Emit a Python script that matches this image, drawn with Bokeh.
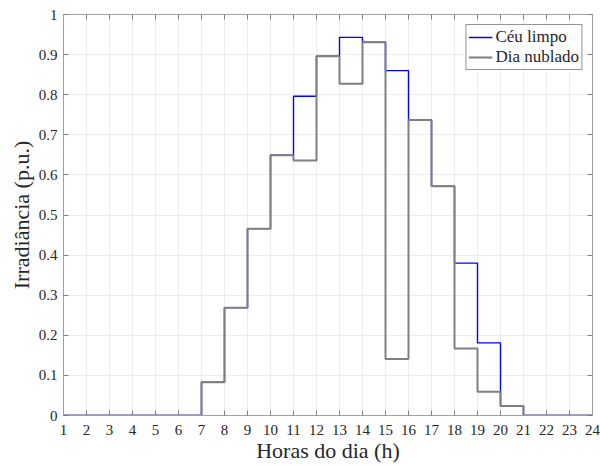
from bokeh.plotting import figure
from bokeh.models import LinearAxis, Range1d, FixedTicker, Legend, LegendItem
from bokeh.embed import file_html
from bokeh.resources import INLINE

# Hourly irradiance (p.u.), value held from hour h to h+1
hours = list(range(1, 25))
ceu_limpo = [0, 0, 0, 0, 0, 0, 0.083, 0.269, 0.466, 0.649, 0.796, 0.896,
             0.943, 0.931, 0.860, 0.737, 0.572, 0.380, 0.181, 0.024, 0, 0, 0, 0]
dia_nublado = [0, 0, 0, 0, 0, 0, 0.083, 0.269, 0.466, 0.649, 0.636, 0.896,
               0.827, 0.931, 0.141, 0.737, 0.572, 0.167, 0.059, 0.024, 0, 0, 0, 0]
x_ticks = list(range(1, 25))
y_ticks = [round(0.1 * i, 1) for i in range(11)]

FONT = "Liberation Serif"
AX = "#262626"

p = figure(width=600, height=466, output_backend="svg", toolbar_location=None,
           x_range=Range1d(1, 24), y_range=Range1d(0, 1),
           min_border_left=63, min_border_right=8, min_border_top=14,
           min_border_bottom=51)
p.background_fill_color = "white"
p.border_fill_color = "white"
p.outline_line_color = "#a0a0a0"
p.outline_line_width = 1

r_blue = p.step(hours, ceu_limpo, mode="after", line_color="#0000ff", line_width=1.4)
r_gray = p.step(hours, dia_nublado, mode="after", line_color="#808080", line_width=2)

# main axes
for ax, ticks in ((p.xaxis[0], x_ticks), (p.yaxis[0], y_ticks)):
    ax.ticker = FixedTicker(ticks=ticks)
    ax.major_tick_in = 5
    ax.major_tick_out = 0
    ax.minor_tick_line_color = None
    ax.axis_line_color = "#a0a0a0"
    ax.major_tick_line_color = "#808080"
    ax.major_label_text_font = FONT
    ax.major_label_text_font_size = "15px"
    ax.major_label_text_color = AX
    ax.axis_label_text_font = FONT
    ax.axis_label_text_font_size = "22px"
    ax.axis_label_text_font_style = "normal"
    ax.axis_label_text_color = AX

p.xaxis[0].axis_label = "Horas do dia (h)"
p.yaxis[0].axis_label = "Irradiância (p.u.)"
p.xaxis[0].major_label_standoff = 9
p.xaxis[0].axis_label_standoff = 0
p.yaxis[0].major_label_standoff = 6
p.yaxis[0].axis_label_standoff = 2
p.yaxis[0].major_label_overrides = {0: "0", 1: "1"}

# mirrored tick marks on top and right
for side, ticks in (("above", x_ticks), ("right", y_ticks)):
    ax = LinearAxis(ticker=FixedTicker(ticks=ticks), major_tick_in=5, major_tick_out=0,
                    minor_tick_line_color=None, axis_line_color="#a0a0a0",
                    major_tick_line_color="#808080",
                    major_label_overrides={t: "" for t in ticks},
                    major_label_standoff=0)
    p.add_layout(ax, side)

p.xgrid.ticker = FixedTicker(ticks=x_ticks)
p.ygrid.ticker = FixedTicker(ticks=y_ticks)
p.grid.grid_line_color = "#ececec"
p.grid.grid_line_width = 1

legend = Legend(items=[LegendItem(label="Céu limpo", renderers=[r_blue]),
                       LegendItem(label="Dia nublado", renderers=[r_gray])],
                location="top_right")
legend.label_text_font = FONT
legend.label_text_font_size = "17px"
legend.label_text_color = AX
legend.border_line_color = "#262626"
legend.border_line_width = 1
legend.background_fill_alpha = 1
legend.glyph_width = 24
legend.glyph_height = 20
legend.label_height = 20
legend.label_standoff = 3
legend.spacing = 0
legend.padding = 2
legend.margin = 10
p.add_layout(legend)

open("out.html", "w").write(file_html(p, INLINE))
